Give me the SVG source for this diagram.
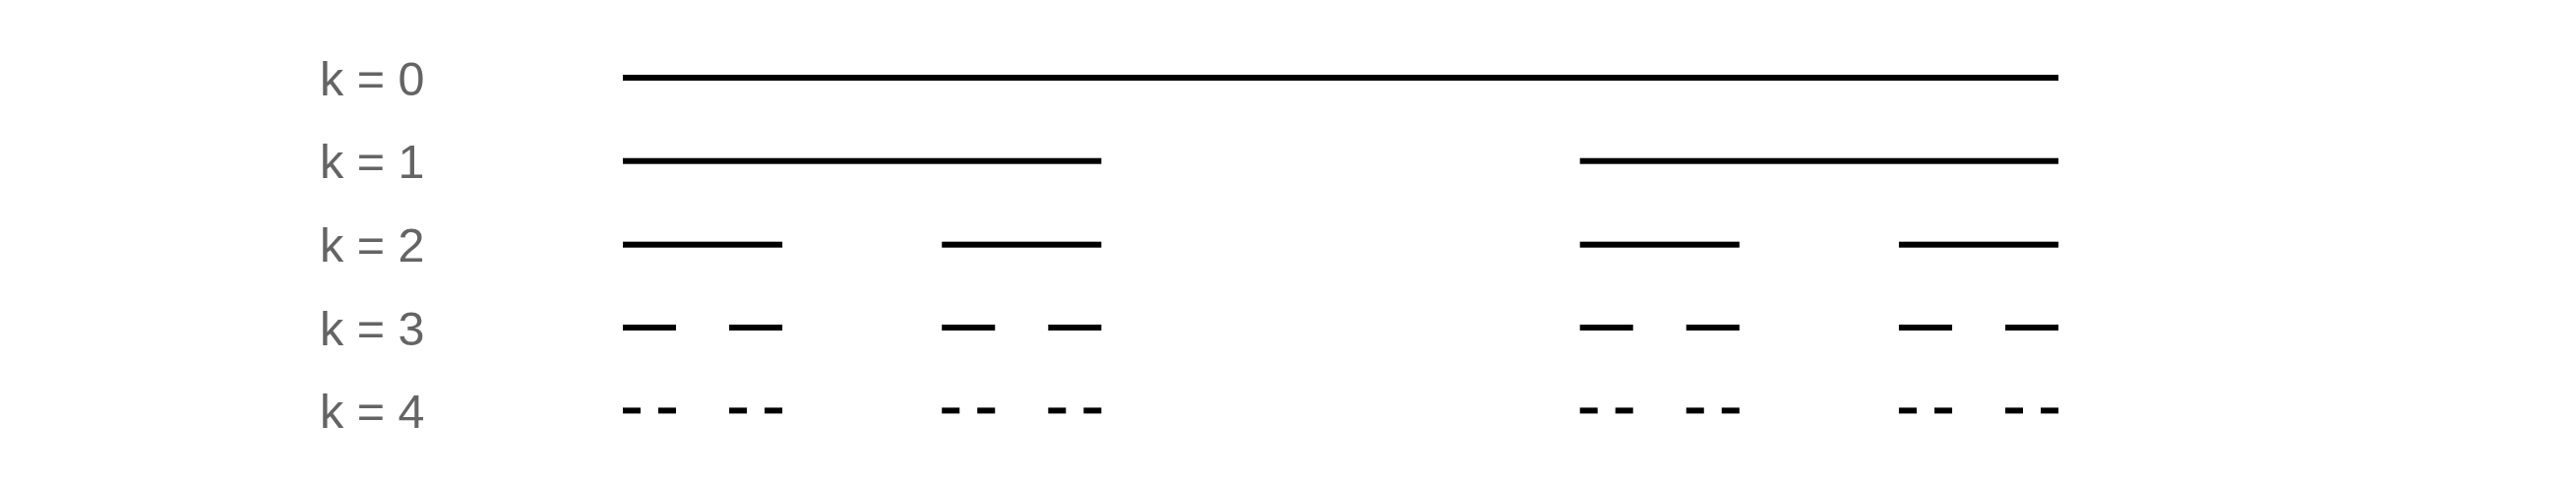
<svg xmlns="http://www.w3.org/2000/svg" width="2618" height="490" viewBox="0 0 2618 490">
<style>
.lbl{font-family:"Liberation Sans",Arial,sans-serif;font-size:48.5px;fill:#646464}
.seg{fill:#000}
</style>
<rect width="2618" height="490" fill="#fff"/>
<g id="row0">
<text class="lbl" x="325" y="96.7">k = 0</text>
<rect class="seg" x="633" y="76" width="1459" height="6"/>
</g>
<g id="row1">
<text class="lbl" x="325" y="181.3">k = 1</text>
<rect class="seg" x="633" y="160.7" width="486.33" height="6"/>
<rect class="seg" x="1605.67" y="160.7" width="486.33" height="6"/>
</g>
<g id="row2">
<text class="lbl" x="325" y="266">k = 2</text>
<g transform="translate(0,245.7)">
<rect class="seg" x="633" width="162.11" height="6"/>
<rect class="seg" x="957.22" width="162.11" height="6"/>
<rect class="seg" x="1605.67" width="162.11" height="6"/>
<rect class="seg" x="1929.89" width="162.11" height="6"/>
</g>
</g>
<g id="row3">
<text class="lbl" x="325" y="350.5">k = 3</text>
<g transform="translate(0,330)">
<rect class="seg" x="633" width="54.04" height="6"/>
<rect class="seg" x="741.07" width="54.04" height="6"/>
<rect class="seg" x="957.22" width="54.04" height="6"/>
<rect class="seg" x="1065.3" width="54.04" height="6"/>
<rect class="seg" x="1605.67" width="54.04" height="6"/>
<rect class="seg" x="1713.74" width="54.04" height="6"/>
<rect class="seg" x="1929.89" width="54.04" height="6"/>
<rect class="seg" x="2037.96" width="54.04" height="6"/>
</g>
</g>
<g id="row4">
<text class="lbl" x="325" y="435">k = 4</text>
<g transform="translate(0,414.4)">
<rect class="seg" x="633" width="18.01" height="6"/>
<rect class="seg" x="669.02" width="18.01" height="6"/>
<rect class="seg" x="741.07" width="18.01" height="6"/>
<rect class="seg" x="777.09" width="18.01" height="6"/>
<rect class="seg" x="957.22" width="18.01" height="6"/>
<rect class="seg" x="993.24" width="18.01" height="6"/>
<rect class="seg" x="1065.3" width="18.01" height="6"/>
<rect class="seg" x="1101.32" width="18.01" height="6"/>
<rect class="seg" x="1605.67" width="18.01" height="6"/>
<rect class="seg" x="1641.69" width="18.01" height="6"/>
<rect class="seg" x="1713.74" width="18.01" height="6"/>
<rect class="seg" x="1749.76" width="18.01" height="6"/>
<rect class="seg" x="1929.89" width="18.01" height="6"/>
<rect class="seg" x="1965.91" width="18.01" height="6"/>
<rect class="seg" x="2037.96" width="18.01" height="6"/>
<rect class="seg" x="2073.98" width="18.01" height="6"/>
</g>
</g>
</svg>
